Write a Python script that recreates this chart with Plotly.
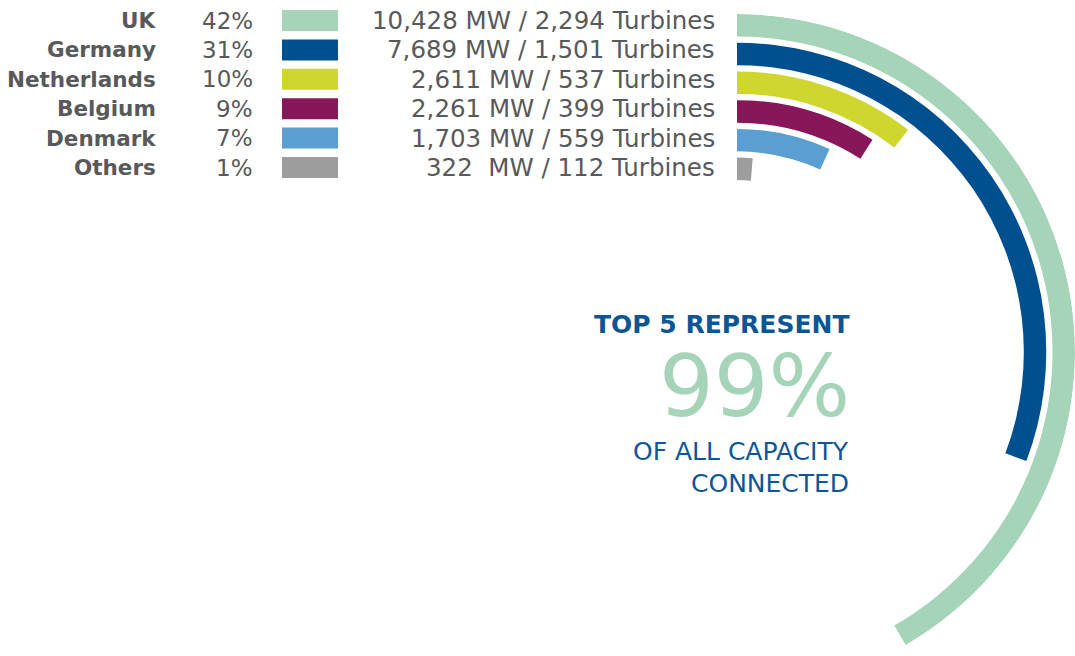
import math
import plotly.graph_objects as go

# ---- data ----
countries = ["UK", "Germany", "Netherlands", "Belgium", "Denmark", "Others"]
share_pct = [42, 31, 10, 9, 7, 1]
capacity_mw = [10428, 7689, 2611, 2261, 1703, 322]
turbines = [2294, 1501, 537, 399, 559, 112]
colors = ["#a5d4b8", "#00508f", "#cfd72e", "#88175a", "#5b9fd2", "#9d9d9d"]
headline_top = "TOP 5 REPRESENT"
headline_value = "99%"
headline_bottom = ["OF ALL CAPACITY", "CONNECTED"]

W, H = 1075, 656
GRAY = "#58595b"
BLUE = "#0e5596"
FONT = "DejaVu Sans"

total = sum(capacity_mw)
sweeps = [m / total * 360 for m in capacity_mw]

# ring geometry (radial axis units)
R_OUTER = 346
THICK = 23
PITCH = 29.4
CX, CY = 737, 352      # centre of rings (px)
RPX = W - CX           # pixel radius of the polar area
SECTOR = [-62, 90]
ybot = CY + RPX * (-math.sin(math.radians(SECTOR[0])))
ytop = CY - RPX

fig = go.Figure()
for i, c in enumerate(countries):
    inner = R_OUTER - THICK - PITCH * i
    fig.add_trace(go.Barpolar(
        r=[THICK], base=[inner], theta=[sweeps[i] / 2], width=[sweeps[i]],
        marker=dict(color=colors[i], line=dict(width=0)),
        name=c, showlegend=False, hoverinfo="skip",
    ))

fig.update_layout(
    width=W, height=H, margin=dict(l=0, r=0, t=0, b=0),
    paper_bgcolor="white", plot_bgcolor="white",
    polar=dict(
        domain=dict(x=[CX / W, 1.0], y=[max(0, 1 - ybot / H), 1 - ytop / H]),
        sector=SECTOR, bgcolor="rgba(0,0,0,0)", barmode="overlay",
        radialaxis=dict(range=[0, R_OUTER], visible=False, showgrid=False),
        angularaxis=dict(rotation=90, direction="clockwise", visible=False,
                         showgrid=False, thetaunit="degrees"),
    ),
)

# ---- legend rows ----
row0 = 20.5
for i, c in enumerate(countries):
    yc = row0 + PITCH * i
    yp = 1 - yc / H
    fig.add_annotation(x=158 / W, y=yp, xref="paper", yref="paper", text=f"<b>{c}</b>",
                       showarrow=False, xanchor="right", yanchor="middle",
                       font=dict(family=FONT, size=21.5, color=GRAY))
    fig.add_annotation(x=255 / W, y=yp, xref="paper", yref="paper", text=f"{share_pct[i]}%",
                       showarrow=False, xanchor="right", yanchor="middle",
                       font=dict(family=FONT, size=23, color=GRAY))
    fig.add_shape(type="rect", xref="paper", yref="paper",
                  x0=282 / W, x1=338 / W, y0=1 - (yc + 10.5) / H, y1=1 - (yc - 10.5) / H,
                  fillcolor=colors[i], line=dict(width=0))
    mw_txt = f"{capacity_mw[i]:,}" + ("\u00a0" if capacity_mw[i] < 1000 else "")
    fig.add_annotation(x=717 / W, y=yp, xref="paper", yref="paper",
                       text=f"{mw_txt} MW / {turbines[i]:,} Turbines",
                       showarrow=False, xanchor="right", yanchor="middle",
                       font=dict(family=FONT, size=24.5, color=GRAY))

# ---- headline ----
fig.add_annotation(x=851 / W, y=1 - 324 / H, xref="paper", yref="paper", text=f"<b>{headline_top}</b>",
                   showarrow=False, xanchor="right", yanchor="middle",
                   font=dict(family=FONT, size=25, color=BLUE))
fig.add_annotation(x=852 / W, y=1 - 386 / H, xref="paper", yref="paper", text=headline_value,
                   showarrow=False, xanchor="right", yanchor="middle",
                   font=dict(family=FONT, size=86, color=colors[0]))
for j, t in enumerate(headline_bottom):
    fig.add_annotation(x=851 / W, y=1 - (452 + 31 * j) / H, xref="paper", yref="paper", text=t,
                       showarrow=False, xanchor="right", yanchor="middle",
                       font=dict(family=FONT, size=25, color=BLUE))

fig.write_html("out.html", config={"displayModeBar": False},
               post_script="document.body.style.margin='0px';")
